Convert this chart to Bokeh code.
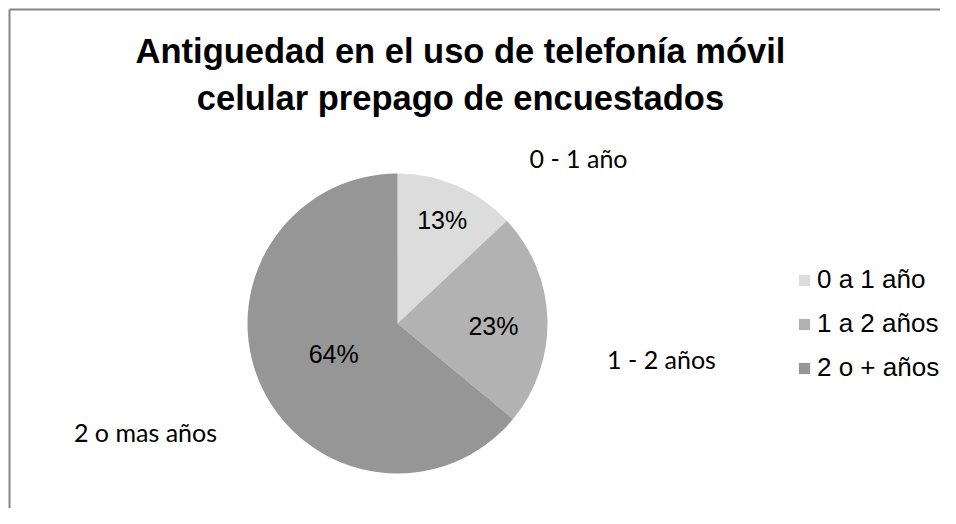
import math
from bokeh.plotting import figure
from bokeh.models import Range1d, Label, Legend, LegendItem, ColumnDataSource
from bokeh.embed import file_html
from bokeh.resources import INLINE

# ---- data ----
title_lines = ["Antiguedad en el uso de telefonía móvil", "celular prepago de encuestados"]
categories = ["0 a 1 año", "1 a 2 años", "2 o + años"]
outer_labels = ["0 - 1 año", "1 - 2 años", "2 o mas años"]
percent_values = [13, 23, 64]
colors = ["#dcdcdc", "#b2b2b2", "#969696"]

# ---- layout (pixels inside the figure) ----
W, H = 940, 508
CX, CY, R = 397, 185, 150
label_radius_frac = [0.75, 0.64, 0.47]
label_dy = [0, -6, 0]
outer_pos = [(578, 351), (661, 150), (145, 77)]

p = figure(width=W, height=H, output_backend="svg", toolbar_location=None,
           x_range=Range1d(0, W), y_range=Range1d(0, H), min_border=0,
           match_aspect=False)
p.axis.visible = False
p.grid.visible = False
p.outline_line_color = None
p.background_fill_color = "white"
p.border_fill_color = "white"

total = sum(percent_values)
starts, ends, mids = [], [], []
acc = 0.0
for v in percent_values:
    s = acc / total
    acc += v
    e = acc / total
    starts.append(math.pi / 2 - s * 2 * math.pi)
    ends.append(math.pi / 2 - e * 2 * math.pi)
    mids.append(math.pi / 2 - (s + e) / 2 * 2 * math.pi)

src = ColumnDataSource(dict(start=starts, end=ends, color=colors, cat=categories,
                            x=[CX] * 3, y=[CY] * 3))
wedges = p.wedge(x="x", y="y", radius=R, start_angle="start", end_angle="end",
                 direction="clock", fill_color="color", line_color=None, source=src)

# percentage labels
for v, a, f, dy in zip(percent_values, mids, label_radius_frac, label_dy):
    p.add_layout(Label(x=CX + f * R * math.cos(a), y=CY + f * R * math.sin(a) + dy,
                       text=f"{v}%", text_align="center", text_baseline="middle",
                       text_font="Liberation Sans", text_font_size="25px",
                       text_color="black"))

# outer category labels
for t, (x, y) in zip(outer_labels, outer_pos):
    p.add_layout(Label(x=x, y=y, text=t, text_align="center", text_baseline="middle",
                       text_font="Lato", text_font_size="25px", text_color="black"))

# title
for i, t in enumerate(title_lines):
    p.add_layout(Label(x=460, y=458 - 47 * i, text=t, text_align="center",
                       text_baseline="middle", text_font="Liberation Sans",
                       text_font_size="34.5px", text_font_style="bold",
                       text_color="black"))

# legend
items = [LegendItem(label=c, renderers=[wedges], index=i) for i, c in enumerate(categories)]
legend = Legend(items=items, location=(797, 125), glyph_width=14, glyph_height=14,
                label_text_font="Liberation Sans", label_text_font_size="26px",
                label_text_color="black",
                label_standoff=6, spacing=13, padding=0, margin=0,
                border_line_color=None, background_fill_alpha=0)
p.add_layout(legend)

# chart border (top and left edges visible)
p.segment(x0=[9, 9], y0=[0, 499], x1=[9, W], y1=[499, 499],
          line_color="#868686", line_width=2)

open("out.html", "w").write(file_html(p, INLINE))
